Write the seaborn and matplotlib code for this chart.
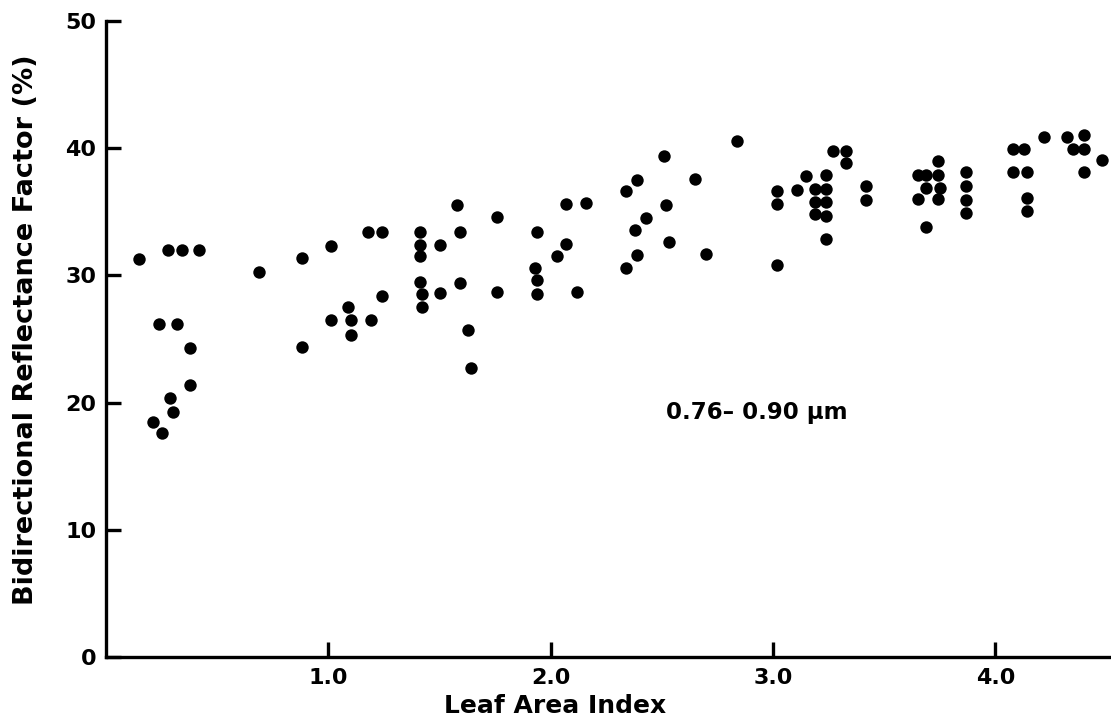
import numpy as np
import pandas as pd
import matplotlib
matplotlib.use("Agg")
import matplotlib.pyplot as plt
import seaborn as sns

# Leaf area index and near-infrared bidirectional reflectance factor (%)
lai = [
    0.15, 0.28, 0.34, 0.42, 0.24, 0.32, 0.38, 0.38, 0.29, 0.30, 0.21, 0.25,
    0.69, 0.88, 0.88, 1.01, 1.01, 1.09, 1.10, 1.10, 1.18, 1.24, 1.19, 1.24,
    1.41, 1.41, 1.41, 1.41, 1.42, 1.42, 1.50, 1.50, 1.58, 1.59, 1.59, 1.63,
    1.64, 1.76, 1.76, 1.94, 1.93, 1.94, 1.94, 2.03, 2.07, 2.07, 2.16, 2.12,
    2.34, 2.39, 2.38, 2.43, 2.39, 2.34, 2.51, 2.52, 2.53, 2.65, 2.70, 2.84,
    3.02, 3.02, 3.02, 3.11, 3.15, 3.19, 3.19, 3.19, 3.24, 3.24, 3.24, 3.24,
    3.24, 3.27, 3.33, 3.33, 3.42, 3.42, 3.74, 3.65, 3.69, 3.74, 3.69, 3.75,
    3.65, 3.74, 3.69, 3.87, 3.87, 3.87, 3.87, 4.08, 4.13, 4.08, 4.14, 4.14,
    4.14, 4.22, 4.32, 4.40, 4.35, 4.40, 4.40, 4.48,
]
brf = [
    31.3, 32.0, 32.0, 32.0, 26.2, 26.2, 24.3, 21.4, 20.4, 19.3, 18.5, 17.6,
    30.3, 31.4, 24.4, 32.3, 26.5, 27.5, 26.5, 25.3, 33.4, 33.4, 26.5, 28.4,
    33.4, 32.4, 31.5, 29.5, 28.5, 27.5, 32.4, 28.6, 35.5, 33.4, 29.4, 25.7,
    22.7, 34.6, 28.7, 33.4, 30.6, 29.6, 28.5, 31.5, 32.5, 35.6, 35.7, 28.7,
    36.6, 37.5, 33.6, 34.5, 31.6, 30.6, 39.4, 35.5, 32.6, 37.6, 31.7, 40.6,
    30.8, 36.6, 35.6, 36.7, 37.8, 36.8, 35.8, 34.8, 37.9, 36.8, 35.8, 34.7,
    32.9, 39.8, 39.8, 38.8, 37.0, 35.9, 39.0, 37.9, 37.9, 37.9, 36.9, 36.9,
    36.0, 36.0, 33.8, 38.1, 37.0, 35.9, 34.9, 39.9, 39.9, 38.1, 38.1, 36.1,
    35.1, 40.9, 40.9, 41.0, 39.9, 39.9, 38.1, 39.1,
]
x_ticks = [1.0, 2.0, 3.0, 4.0]
x_tick_labels = ["1.0", "2.0", "3.0", "4.0"]
y_ticks = [0, 10, 20, 30, 40, 50]
band_label = "0.76\u2013 0.90 \u00b5m"

df = pd.DataFrame({"Leaf Area Index": lai, "BRF": brf})

sns.set_style("ticks")
plt.rcParams["font.family"] = ["DejaVu Sans"]
plt.rcParams["font.weight"] = "bold"
for key in ("text.color", "axes.labelcolor", "xtick.color", "ytick.color"):
    plt.rcParams[key] = "black"

fig = plt.figure(figsize=(11.11, 7.28), dpi=100)
ax = fig.add_axes([106 / 1111, 1 - 657 / 728, 1 - 106 / 1111, (657 - 21) / 728])

sns.scatterplot(data=df, x="Leaf Area Index", y="BRF", ax=ax,
                color="black", s=80, edgecolor="black", linewidth=0, legend=False)

ax.set_xlim(0, 4.52)
ax.set_ylim(0, 50)
ax.set_xticks(x_ticks)
ax.set_xticklabels(x_tick_labels)
ax.set_yticks(y_ticks)
ax.tick_params(axis="both", direction="in", length=11, width=2.4,
               labelsize=16, colors="black")
ax.tick_params(axis="x", pad=8)
ax.tick_params(axis="y", pad=7)
for lbl in ax.get_xticklabels() + ax.get_yticklabels():
    lbl.set_fontweight("bold")

sns.despine(ax=ax)
for side in ("left", "bottom"):
    ax.spines[side].set_linewidth(2.4)
    ax.spines[side].set_color("black")

ax.set_xlabel("Leaf Area Index", fontsize=18, fontweight="bold")
ax.set_ylabel("Bidirectional Reflectance Factor (%)", fontsize=19.5,
              fontweight="bold")
ax.xaxis.set_label_coords(0.447, -0.058)
ax.yaxis.set_label_coords(-0.067, 0.515)

ax.text(2.52, 19.2, band_label, fontsize=16.5, fontweight="bold",
        ha="left", va="center")

fig.savefig("out.png", dpi=100, facecolor="white")
